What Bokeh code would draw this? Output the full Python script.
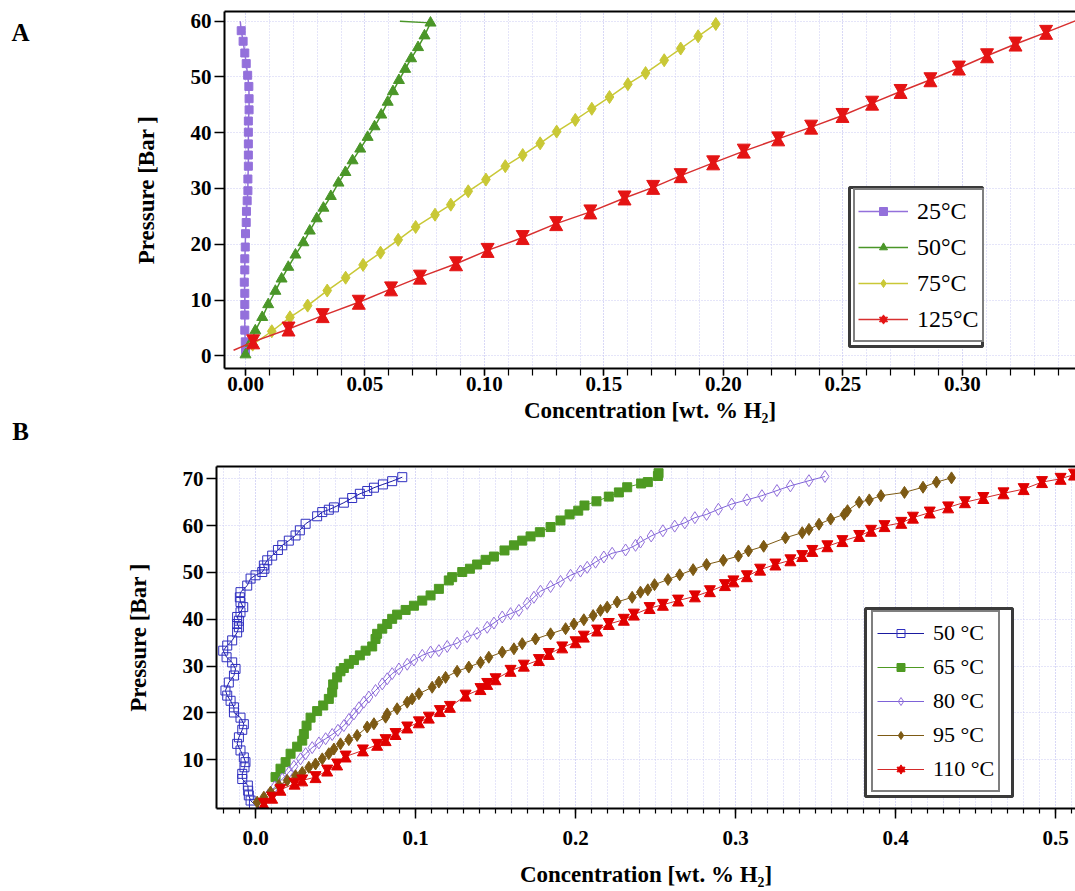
from bokeh.plotting import figure
from bokeh.models import (Range1d, LinearAxis, FixedTicker, SingleIntervalTicker,
                          Legend, LegendItem, Label, BoxAnnotation, ColumnDataSource,
                          PrintfTickFormatter)
from bokeh.layouts import column, row
from bokeh.transform import dodge
from bokeh.embed import file_html
from bokeh.resources import INLINE

# ---------------- data: panel A ----------------
a25_x = [0.0, -0.0001, -0.0003, -0.0003, -0.0003, -0.0003, -0.0005, -0.0003, -0.0003, -0.0001,
         0.0, 0.0003, 0.0004, 0.0007, 0.001, 0.001, 0.0012, 0.0012, 0.0012, 0.0012,
         0.0012, 0.0015, 0.0015, 0.0014, 0.0009, 0.0003, -0.0003, -0.001, -0.0018, -0.0022]
a25_p = [1.0, 2.5, 4.6, 7.3, 9.2, 11.2, 13.2, 15.4, 17.4, 19.5,
         21.9, 23.9, 25.9, 27.8, 29.6, 31.7, 34.0, 36.0, 38.0, 40.1,
         42.1, 44.1, 46.1, 48.3, 50.3, 52.4, 54.3, 56.4, 58.3, 60.0]
a50_x = [0.0, 0.0021, 0.0041, 0.007, 0.0095, 0.0125, 0.0151, 0.0179, 0.0209, 0.0242,
         0.0269, 0.0298, 0.0326, 0.0357, 0.0389, 0.0418, 0.0448, 0.048, 0.0511, 0.054,
         0.0568, 0.0595, 0.0617, 0.0642, 0.0668, 0.0693, 0.0722, 0.0749, 0.0774, 0.0646]
a50_p = [0.2, 2.3, 4.5, 6.9, 9.2, 11.6, 13.8, 15.9, 18.1, 20.3,
         22.4, 24.6, 26.5, 28.6, 31.0, 32.9, 35.0, 37.1, 39.2, 41.1,
         43.2, 45.5, 47.4, 49.4, 51.4, 53.3, 55.3, 57.4, 59.7, 60.0]
a75_x = [0.003, 0.011, 0.0186, 0.026, 0.0342, 0.0419, 0.0492, 0.0565, 0.0639, 0.0712,
         0.0793, 0.0859, 0.0932, 0.1006, 0.1087, 0.116, 0.1233, 0.1302, 0.138, 0.1449,
         0.1523, 0.16, 0.1674, 0.1752, 0.1821, 0.1894, 0.1968]
a75_p = [2.0, 4.4, 6.9, 9.0, 11.7, 14.0, 16.3, 18.5, 20.8, 23.1,
         25.3, 27.1, 29.5, 31.6, 34.0, 36.0, 38.1, 40.2, 42.3, 44.3,
         46.4, 48.7, 50.7, 53.0, 55.1, 57.3, 59.5]
a125_x = [-0.005, 0.0032, 0.018, 0.0323, 0.0474, 0.0609, 0.073, 0.0881, 0.1013, 0.116,
          0.13, 0.1443, 0.1586, 0.1706, 0.1821, 0.1957, 0.2085, 0.2229, 0.2367, 0.2498,
          0.2622, 0.2741, 0.2866, 0.2985, 0.3103, 0.3222, 0.335, 0.36]
a125_p = [1.0, 2.5, 4.8, 7.2, 9.6, 12.0, 14.1, 16.5, 18.9, 21.2,
          23.7, 25.8, 28.3, 30.2, 32.3, 34.6, 36.7, 38.9, 41.0, 43.1,
          45.3, 47.4, 49.5, 51.6, 53.8, 55.9, 58.0, 62.2]
a_labels = ["25°C", "50°C", "75°C", "125°C"]
a_yticks = [0, 10, 20, 30, 40, 50, 60]

# ---------------- data: panel B ----------------
b50_x = [-0.001, -0.0031, -0.0042, -0.0046, -0.0048, -0.0083, -0.0083, -0.0069, -0.0063, -0.0073,
         -0.0094, -0.0115, -0.0104, -0.0083, -0.0073, -0.0094, -0.0135, -0.0135, -0.0156, -0.0177,
         -0.0188, -0.0167, -0.0135, -0.0125, -0.0146, -0.0181, -0.0202, -0.0177, -0.0146, -0.0115,
         -0.0104, -0.0115, -0.0104, -0.0115, -0.0094, -0.0077, -0.0094, -0.0098, -0.0094, -0.0052,
         -0.0031, 0.0, 0.0042, 0.0056, 0.0052, 0.0073, 0.0104, 0.014, 0.0167, 0.0208,
         0.025, 0.0277, 0.0313, 0.0385, 0.0417, 0.0458, 0.049, 0.0552, 0.0604, 0.0652,
         0.0698, 0.074, 0.0796, 0.0854, 0.0917]
b50_p = [0.6, 1.3, 2.4, 3.4, 4.5, 5.9, 7.0, 8.4, 9.5, 10.5,
         12.0, 13.4, 14.8, 16.4, 17.6, 19.0, 20.1, 21.2, 22.6, 23.7,
         24.8, 26.5, 28.0, 29.4, 30.8, 31.9, 33.3, 34.4, 35.5, 37.2,
         38.3, 39.0, 39.7, 40.5, 41.5, 42.6, 43.7, 44.7, 45.8, 47.2,
         48.7, 49.4, 50.1, 50.8, 51.5, 52.6, 53.6, 54.8, 55.8, 56.8,
         57.9, 59.0, 60.4, 62.0, 62.9, 63.4, 63.9, 64.9, 65.9, 66.8,
         67.4, 68.1, 68.8, 69.5, 70.35]
b65_x = [0.0125, 0.0156, 0.0188, 0.0219, 0.026, 0.0292, 0.0302, 0.0319, 0.0344, 0.0385,
         0.0423, 0.0458, 0.0479, 0.0485, 0.051, 0.0531, 0.0552, 0.0583, 0.0615, 0.0652,
         0.0688, 0.0729, 0.075, 0.076, 0.0792, 0.0823, 0.0854, 0.0885, 0.0938, 0.099,
         0.1042, 0.1094, 0.1146, 0.1208, 0.1229, 0.1292, 0.134, 0.1385, 0.1438, 0.149,
         0.1556, 0.1615, 0.1667, 0.1719, 0.1777, 0.1844, 0.1906, 0.1963, 0.2017, 0.2056,
         0.2131, 0.2208, 0.2271, 0.2323, 0.241, 0.2452, 0.2515, 0.2519]
b65_p = [6.3, 8.1, 9.5, 11.3, 12.8, 14.1, 15.5, 17.3, 19.0, 20.4,
         21.6, 23.0, 24.4, 26.1, 27.6, 28.9, 29.6, 30.5, 31.3, 32.3,
         33.3, 34.2, 35.8, 36.9, 38.0, 39.0, 40.1, 41.0, 42.0, 42.9,
         44.0, 45.1, 46.5, 48.3, 49.0, 50.1, 50.8, 51.7, 52.7, 53.4,
         54.7, 55.8, 56.8, 57.7, 58.6, 59.7, 61.1, 62.4, 63.2, 64.3,
         65.2, 66.2, 67.1, 68.2, 69.0, 69.3, 70.6, 71.2]
b80_x = [0.008, 0.012, 0.0167, 0.0208, 0.024, 0.0281, 0.0313, 0.0354, 0.0396, 0.0438,
         0.0479, 0.0515, 0.0552, 0.0583, 0.0615, 0.0646, 0.0677, 0.0708, 0.075, 0.0792,
         0.0823, 0.0854, 0.0896, 0.0948, 0.099, 0.1042, 0.1094, 0.1146, 0.1198, 0.126,
         0.1323, 0.1385, 0.1448, 0.149, 0.1542, 0.1594, 0.1646, 0.1698, 0.174, 0.1781,
         0.1844, 0.1906, 0.1969, 0.2031, 0.2073, 0.2125, 0.2177, 0.2229, 0.2313, 0.2375,
         0.2406, 0.2473, 0.2546, 0.262, 0.2683, 0.2746, 0.2819, 0.2893, 0.2976, 0.3071,
         0.3165, 0.3259, 0.3343, 0.3459, 0.3559]
b80_p = [2.5, 4.2, 5.9, 7.3, 8.6, 10.2, 11.3, 12.6, 13.6, 14.5,
         15.4, 16.3, 17.3, 18.6, 19.8, 21.1, 22.3, 23.4, 24.8, 26.2,
         27.3, 28.4, 29.4, 30.4, 31.3, 32.3, 33.0, 33.3, 34.2, 34.9,
         36.3, 37.0, 38.3, 39.2, 40.5, 41.2, 41.9, 43.4, 44.7, 46.0,
         47.0, 48.1, 49.4, 50.3, 51.1, 52.2, 53.3, 54.1, 54.8, 55.8,
         56.5, 57.8, 58.9, 59.9, 60.6, 61.7, 62.4, 63.5, 64.6, 65.5,
         66.4, 67.5, 68.5, 69.6, 70.5]
b95_x = [0.001, 0.0052, 0.0094, 0.0146, 0.0198, 0.025, 0.0292, 0.0333, 0.0375, 0.0417,
         0.0458, 0.049, 0.0531, 0.0583, 0.0635, 0.0698, 0.074, 0.0813, 0.0823, 0.0885,
         0.0948, 0.0979, 0.1021, 0.1104, 0.1146, 0.1188, 0.126, 0.1333, 0.1406, 0.1458,
         0.1542, 0.1615, 0.1667, 0.175, 0.1844, 0.1938, 0.199, 0.2052, 0.211, 0.2156,
         0.2198, 0.226, 0.2354, 0.2406, 0.2452, 0.2494, 0.2578, 0.2651, 0.2735, 0.2819,
         0.2924, 0.3018, 0.3081, 0.3176, 0.3312, 0.3417, 0.3459, 0.3522, 0.3595, 0.3679,
         0.37, 0.3773, 0.3836, 0.3909, 0.4056, 0.4172, 0.4256, 0.435]
b95_p = [0.96, 2.0, 3.1, 4.5, 5.6, 6.6, 7.3, 8.4, 9.1, 10.2,
         11.3, 12.3, 13.4, 14.3, 15.2, 17.0, 17.7, 19.1, 19.8, 20.9,
         22.3, 23.0, 24.1, 25.5, 26.6, 27.6, 28.9, 29.8, 30.8, 31.9,
         33.0, 33.7, 34.8, 35.8, 36.9, 38.0, 39.0, 39.9, 40.8, 41.9,
         42.6, 43.7, 44.7, 45.8, 46.3, 47.4, 48.5, 49.5, 50.6, 51.7,
         52.6, 53.5, 54.6, 55.6, 57.4, 58.5, 59.2, 60.3, 61.4, 62.4,
         63.2, 65.0, 65.5, 66.4, 67.1, 68.2, 69.3, 70.2]
b110_x = [0.0052, 0.0104, 0.0156, 0.0244, 0.0292, 0.0375, 0.0448, 0.051, 0.0563, 0.0671,
          0.076, 0.0813, 0.0875, 0.0948, 0.1021, 0.1083, 0.1152, 0.1215, 0.1313, 0.1406,
          0.1448, 0.15, 0.1594, 0.1677, 0.1771, 0.1833, 0.1917, 0.2, 0.2052, 0.2135,
          0.2208, 0.2302, 0.2365, 0.2463, 0.2546, 0.2641, 0.2746, 0.284, 0.2934, 0.2987,
          0.3071, 0.3154, 0.3249, 0.3343, 0.3417, 0.348, 0.3574, 0.3668, 0.3773, 0.3847,
          0.3931, 0.4036, 0.4109, 0.4214, 0.4329, 0.4434, 0.4549, 0.4675, 0.4801, 0.4916,
          0.5032, 0.5116]
b110_p = [0.6, 1.9, 3.6, 4.9, 5.6, 6.3, 7.7, 9.0, 10.7, 12.0,
          13.2, 14.2, 15.5, 16.9, 18.0, 19.0, 20.4, 21.3, 23.7, 25.1,
          26.2, 27.2, 29.0, 30.1, 31.3, 32.6, 34.0, 35.1, 36.3, 37.6,
          39.0, 39.9, 41.0, 42.4, 43.1, 44.0, 44.9, 46.0, 47.3, 48.1,
          49.2, 50.6, 51.7, 52.6, 53.5, 54.6, 55.6, 56.7, 57.8, 58.9,
          59.9, 60.6, 61.7, 62.8, 63.9, 65.0, 65.9, 66.9, 67.8, 69.3,
          70.0, 70.9]
b_labels = ["50 °C", "65 °C", "80 °C", "95 °C", "110 °C"]
b_yticks = [10, 20, 30, 40, 50, 60, 70]
panel_letters = ["A", "B"]

SERIF = "Liberation Serif"
GRID = "#cacaf2"
LETTER_W = 40
HA = 452
HB = 891 - HA


def make_fig(width, height, xr, yr, left, top, bottom, xticker, xfmt, yticks,
             x_major_out, x_minor_out, y_lab_standoff, x_lab_standoff, x_tick_standoff):
    p = figure(width=width, height=height, x_range=Range1d(*xr), y_range=Range1d(*yr),
               output_backend="svg", toolbar_location=None,
               min_border_left=left, min_border_right=0, min_border_top=top,
               min_border_bottom=bottom, frame_align=False,
               x_axis_label="Concentration [wt. % H₂]", y_axis_label="Pressure [Bar ]")
    p.outline_line_color = None
    p.background_fill_color = "white"
    p.border_fill_color = "white"
    xa, ya = p.xaxis[0], p.yaxis[0]
    xa.ticker = xticker
    xa.formatter = PrintfTickFormatter(format=xfmt)
    ya.ticker = FixedTicker(ticks=yticks, minor_ticks=[])
    for ax in (xa, ya):
        ax.axis_line_width = 2
        ax.axis_line_color = "black"
        ax.major_tick_line_width = 1.5
        ax.minor_tick_line_width = 1.2
        ax.major_tick_line_color = "black"
        ax.minor_tick_line_color = "black"
        ax.major_tick_in = 0
        ax.minor_tick_in = 0
        ax.major_label_text_font = SERIF
        ax.major_label_text_font_style = "bold"
        ax.major_label_text_font_size = "21px"
        ax.major_label_text_color = "black"
        ax.axis_label_text_font = SERIF
        ax.axis_label_text_font_style = "bold"
        ax.axis_label_text_font_size = "23px"
        ax.axis_label_text_color = "black"
    xa.major_tick_out = x_major_out
    xa.minor_tick_out = x_minor_out
    xa.major_label_standoff = x_tick_standoff
    xa.axis_label_standoff = x_lab_standoff
    ya.major_tick_out = 10
    ya.minor_tick_out = 0
    ya.major_label_standoff = 3
    ya.axis_label_standoff = y_lab_standoff
    top_ax = LinearAxis(ticker=FixedTicker(ticks=[]), major_label_text_font_size="0px",
                        major_tick_out=0, major_tick_in=0, minor_tick_out=0, minor_tick_in=0,
                        major_label_standoff=0, axis_line_width=2, axis_line_color="black")
    p.add_layout(top_ax, "above")
    p.xgrid.grid_line_color = GRID
    p.xgrid.grid_line_dash = "1 2"
    p.xgrid.minor_grid_line_color = GRID
    p.xgrid.minor_grid_line_dash = "1 2"
    p.ygrid.grid_line_color = GRID
    p.ygrid.grid_line_dash = "1 2"
    return p


def hourglass(p, xs, ys, size, dy, color):
    src = ColumnDataSource(dict(x=xs, y=ys))
    r1 = p.scatter("x", dodge("y", dy), source=src, marker="inverted_triangle", size=size,
                   fill_color=color, line_color=color)
    r2 = p.scatter("x", dodge("y", -dy), source=src, marker="triangle", size=size,
                   fill_color=color, line_color=color)
    return [r1, r2]


def add_legend(p, items, loc, pad, lh, gw, fs, box):
    lg = Legend(items=items, location=loc, padding=pad, margin=0, spacing=0,
                label_height=lh, glyph_width=gw, glyph_height=20, label_standoff=9,
                label_text_font=SERIF, label_text_font_size=fs, label_text_color="black",
                border_line_color="black", border_line_width=2,
                background_fill_color="white", background_fill_alpha=1.0)
    outer = BoxAnnotation(left=box[0], right=box[1], top=box[2], bottom=box[3],
                          left_units="canvas", right_units="canvas",
                          top_units="canvas", bottom_units="canvas",
                          fill_color="white", fill_alpha=1.0,
                          line_color="#3a3a3a", line_alpha=1.0, line_width=3)
    p.add_layout(outer)
    p.add_layout(lg, "center")


# ---------------- panel letters (narrow strip left of panel A) ----------------
pl = figure(width=LETTER_W, height=HA, x_range=Range1d(0, LETTER_W), y_range=Range1d(HA, 0),
            output_backend="svg", toolbar_location=None, min_border=0, frame_align=False,
            x_axis_location=None, y_axis_location=None)
pl.outline_line_color = None
pl.grid.visible = False
for txt, ypos in zip(panel_letters, [32, 431]):
    pl.add_layout(Label(x=20, y=ypos, text=txt, text_font=SERIF, text_font_style="bold",
                        text_font_size="25px", text_align="center", text_baseline="middle",
                        text_color="black"))

# ---------------- panel A ----------------
pa = make_fig(1075 - LETTER_W, HA, (-0.00879, 0.3473), (-2.28, 61.74), 224 - LETTER_W, 11, HA - 368,
              SingleIntervalTicker(interval=0.05, num_minor_ticks=5), "%.2f", a_yticks,
              7, 7, 29, 4, 1)

c25, c50, c75, c125 = "#9370DB", "#4a9628", "#c9c836", "#e41414"
l25 = pa.line(a25_x, a25_p, line_color=c25, line_width=1.5)
m25 = pa.scatter(a25_x[:-1], a25_p[:-1], marker="square", size=8, fill_color=c25, line_color=c25)
l50 = pa.line(a50_x, a50_p, line_color=c50, line_width=1.5)
m50 = pa.scatter(a50_x[:-1], a50_p[:-1], marker="triangle", size=11, fill_color=c50, line_color=c50)
l75 = pa.line(a75_x, a75_p, line_color=c75, line_width=1.5)
m75 = pa.scatter(a75_x, a75_p, marker="diamond", size=13, fill_color=c75, line_color=c75)
l125 = pa.line(a125_x, a125_p, line_color="#d83030", line_width=1.5)
m125 = hourglass(pa, a125_x[1:-1], a125_p[1:-1], 13, 0.58, c125)

add_legend(pa, [LegendItem(label=a_labels[0], renderers=[l25, m25]),
                LegendItem(label=a_labels[1], renderers=[l50, m50]),
                LegendItem(label=a_labels[2], renderers=[l75, m75]),
                LegendItem(label=a_labels[3], renderers=[l125] + m125)],
           (629, 26), 3, 36, 50, "24px",
           (849 - LETTER_W, 982 - LETTER_W, 187, 346))

# ---------------- panel B ----------------
pb = make_fig(1075, HB, (-0.0244, 0.5125), (-0.40, 72.63), 216, 466 - HA, 891 - 808,
              SingleIntervalTicker(interval=0.1, num_minor_ticks=10), "%.1f", b_yticks,
              10, 5, 29, 14, 12)

cb50, cb65, cb80, cb95, cb110 = "#2f2fc0", "#4e9a22", "#9370DB", "#7d5a14", "#e00000"
lb50 = pb.line(b50_x, b50_p, line_color="#1a1aa0", line_width=1)
mb50 = pb.scatter(b50_x, b50_p, marker="square", size=9, fill_color=None, line_color=cb50)
lb65 = pb.line(b65_x, b65_p, line_color=cb65, line_width=1)
mb65 = pb.scatter(b65_x, b65_p, marker="square", size=9, fill_color=cb65, line_color=cb65)
lb80 = pb.line(b80_x, b80_p, line_color="#7d62d8", line_width=1)
mb80 = pb.scatter(b80_x, b80_p, marker="diamond", size=12, fill_color=None, line_color=cb80)
lb95 = pb.line(b95_x, b95_p, line_color=cb95, line_width=1)
mb95 = pb.scatter(b95_x, b95_p, marker="diamond", size=12, fill_color=cb95, line_color=cb95)
lb110 = pb.line(b110_x, b110_p, line_color="#d42a2a", line_width=1)
mb110 = hourglass(pb, b110_x, b110_p, 11, 0.49, cb110)

add_legend(pb, [LegendItem(label=b_labels[0], renderers=[lb50, mb50]),
                LegendItem(label=b_labels[1], renderers=[lb65, mb65]),
                LegendItem(label=b_labels[2], renderers=[lb80, mb80]),
                LegendItem(label=b_labels[3], renderers=[lb95, mb95]),
                LegendItem(label=b_labels[4], renderers=[lb110] + mb110)],
           (655, 16), 4, 34, 47, "22px", (865, 1012, 608 - HA, 796 - HA))

layout = column(row(pl, pa, spacing=0), pb, spacing=0)
open("out.html", "w").write(file_html(layout, INLINE))
